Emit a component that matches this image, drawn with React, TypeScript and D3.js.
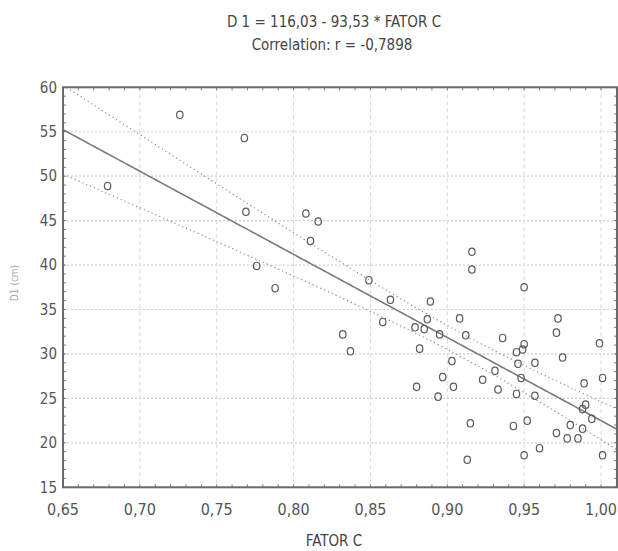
import React from "react";
import * as d3 from "d3";

const fatorC = [
  0.679, 0.726, 0.768, 0.769, 0.776, 0.788, 0.808, 0.816, 0.811, 0.849, 0.863, 0.858, 0.832, 0.837,
  0.889, 0.887, 0.879, 0.885, 0.882, 0.895, 0.908, 0.912, 0.903, 0.897, 0.880, 0.894, 0.904, 0.916,
  0.916, 0.915, 0.913, 0.923, 0.931, 0.933, 0.936,
  0.945, 0.949, 0.950, 0.950, 0.946, 0.948, 0.945, 0.957, 0.957, 0.943, 0.952, 0.950, 0.960, 0.972,
  0.971, 0.975, 0.971, 0.978, 0.980, 0.985, 0.988, 0.988, 0.990, 0.989, 0.994, 0.999, 1.001, 1.001,
];
const d1 = [
  48.9, 56.9, 54.3, 46.0, 39.9, 37.4, 45.8, 44.9, 42.7, 38.3, 36.1, 33.6, 32.2, 30.3,
  35.9, 33.9, 33.0, 32.8, 30.6, 32.2, 34.0, 32.1, 29.2, 27.4, 26.3, 25.2, 26.3, 41.5,
  39.5, 22.2, 18.1, 27.1, 28.1, 26.0, 31.8,
  30.2, 30.5, 31.1, 37.5, 28.9, 27.3, 25.5, 29.0, 25.3, 21.9, 22.5, 18.6, 19.4, 34.0,
  32.4, 29.6, 21.1, 20.5, 22.0, 20.5, 21.6, 23.8, 24.3, 26.7, 22.7, 31.2, 27.3, 18.6,
];
const intercept = 116.03;
const slope = -93.53;
const xTicks = [0.65, 0.7, 0.75, 0.8, 0.85, 0.9, 0.95, 1.0];
const yTicks = [15, 20, 25, 30, 35, 40, 45, 50, 55, 60];
const titleLine1 = "D 1 = 116,03 - 93,53 * FATOR C";
const titleLine2 = "Correlation: r = -0,7898";
const xLabel = "FATOR C";
const yLabel = "D1 (cm)";

const W = 618;
const H = 551;
const L = 63;
const R = 617;
const T = 87.3;
const B = 487.3;
const FONT = "'Liberation Sans Narrow', 'DejaVu Sans Condensed', 'Liberation Sans', sans-serif";

export default function App() {
  const x = d3.scaleLinear().domain([0.65, 1.0104]).range([L, R]);
  const y = d3.scaleLinear().domain([15, 60]).range([B, T]);

  const n = fatorC.length;
  const mx = d3.mean(fatorC) as number;
  const sxx = d3.sum(fatorC, (v) => (v - mx) ** 2);
  const sse = d3.sum(fatorC, (v, i) => (d1[i] - (intercept + slope * v)) ** 2);
  const s = Math.sqrt(sse / (n - 2));
  const tval = 2.0;
  const xs = d3.range(0.65, 1.0105, 0.002);
  const fit = (v: number) => intercept + slope * v;
  const hw = (v: number) => tval * s * Math.sqrt(1 / n + (v - mx) ** 2 / sxx);
  const line = d3.line<number>().x((v) => x(v)).y((v) => y(v));
  const fitPath = d3.line<number>().x((v) => x(v)).y((v) => y(fit(v)))(xs) as string;
  const upPath = d3.line<number>().x((v) => x(v)).y((v) => y(fit(v) + hw(v)))(xs) as string;
  const loPath = d3.line<number>().x((v) => x(v)).y((v) => y(fit(v) - hw(v)))(xs) as string;
  void line;

  const minorX = d3.range(65, 102).map((k) => k / 100);
  const minorY = d3.range(15, 61);

  return (
    <svg width={W} height={H} style={{ position: "absolute", left: 0, top: 0, background: "#fff" }}>
      <defs>
        <clipPath id="plot">
          <rect x={L} y={T} width={R - L} height={B - T} />
        </clipPath>
      </defs>
      {/* grid */}
      {yTicks.slice(1, -1).map((t) => (
        <line key={"gy" + t} x1={L} x2={R} y1={y(t)} y2={y(t)} stroke="#cfcfcf" strokeWidth={1.2} strokeDasharray="2,2" />
      ))}
      {xTicks.slice(1).map((t) => (
        <line key={"gx" + t} x1={x(t)} x2={x(t)} y1={T} y2={B} stroke="#d8d8d8" strokeWidth={1} strokeDasharray="4,3" />
      ))}
      <g clipPath="url(#plot)">
        <path d={upPath} fill="none" stroke="#8a8a8a" strokeWidth={1.2} strokeDasharray="1.2,3" />
        <path d={loPath} fill="none" stroke="#8a8a8a" strokeWidth={1.2} strokeDasharray="1.2,3" />
        <path d={fitPath} fill="none" stroke="#7a7a7a" strokeWidth={1.6} />
      </g>
      {/* points */}
      {fatorC.map((v, i) => (
        <ellipse key={"p" + i} cx={x(v)} cy={y(d1[i])} rx={3.2} ry={3.7} fill="none" stroke="#5a5a5a" strokeWidth={1.2} />
      ))}
      {/* minor ticks */}
      {minorX.map((t) => (
        <g key={"mx" + t}>
          <line x1={x(t)} x2={x(t)} y1={B} y2={B - 3} stroke="#777" strokeWidth={1} />
          <line x1={x(t)} x2={x(t)} y1={T} y2={T + 3} stroke="#777" strokeWidth={1} />
        </g>
      ))}
      {minorY.map((t) => (
        <g key={"my" + t}>
          <line x1={L} x2={L + 3} y1={y(t)} y2={y(t)} stroke="#777" strokeWidth={1} />
          <line x1={R} x2={R - 3} y1={y(t)} y2={y(t)} stroke="#777" strokeWidth={1} />
        </g>
      ))}
      {/* frame */}
      <rect x={L} y={T} width={R - L} height={B - T} fill="none" stroke="#6a6a6a" strokeWidth={2} />
      {/* tick labels */}
      {yTicks.map((t) => (
        <text key={"ly" + t} x={57} y={y(t)} dy="0.35em" textAnchor="end" fontFamily={FONT} fontSize={15} fill="#555">
          {t}
        </text>
      ))}
      {xTicks.map((t) => (
        <text key={"lx" + t} x={x(t)} y={515} textAnchor="middle" fontFamily={FONT} fontSize={16} fill="#555">
          {t.toFixed(2).replace(".", ",")}
        </text>
      ))}
      <text x={334} y={546} textAnchor="middle" fontFamily={FONT} fontSize={15} fill="#444">{xLabel}</text>
      <text transform="translate(18,283) rotate(-90)" textAnchor="middle" fontFamily={FONT} fontSize={10} fill="#aaa">{yLabel}</text>
      <text x={334} y={27} textAnchor="middle" fontFamily={FONT} fontSize={15} fill="#444">{titleLine1}</text>
      <text x={332} y={50} textAnchor="middle" fontFamily={FONT} fontSize={15} fill="#444">{titleLine2}</text>
    </svg>
  );
}
